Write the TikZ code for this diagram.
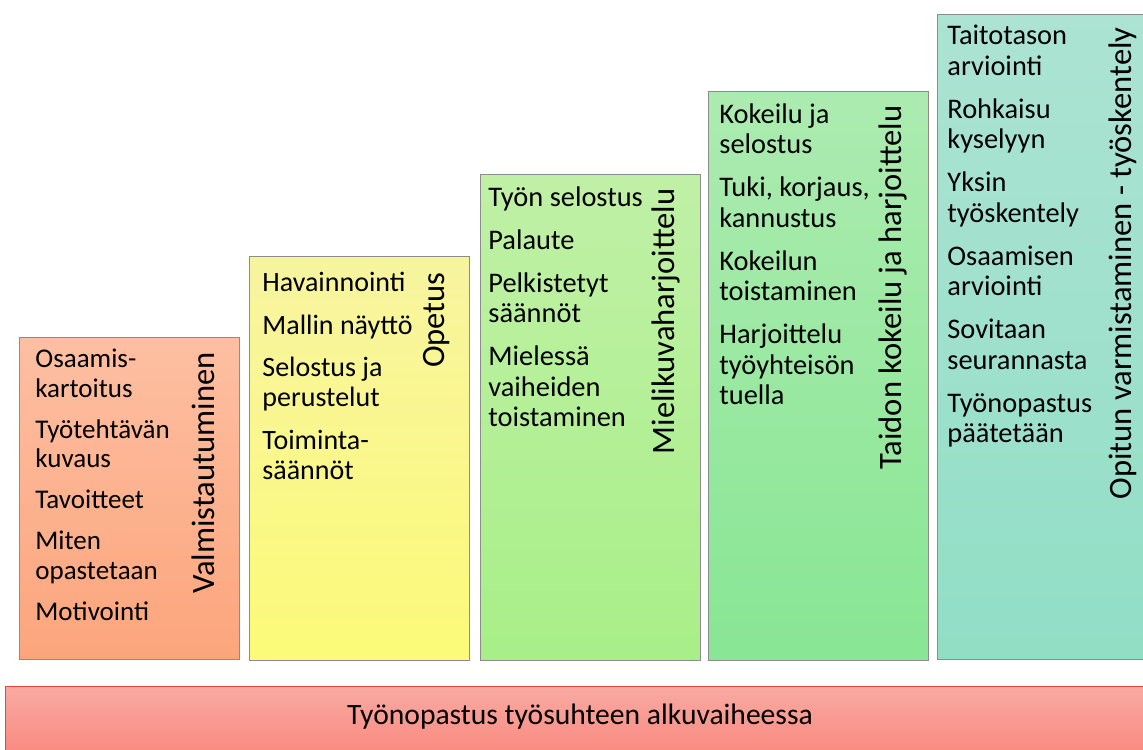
\documentclass[tikz,border=0pt]{standalone}
\usepackage{fontspec}
\setmainfont{Carlito}
\definecolor{valmtop}{HTML}{FDBFA2}
\definecolor{valmbot}{HTML}{FCA57C}
\definecolor{opettop}{HTML}{F7F4A0}
\definecolor{opetbot}{HTML}{FCFA78}
\definecolor{mieltop}{HTML}{C0F0A6}
\definecolor{mielbot}{HTML}{A8EF88}
\definecolor{taidtop}{HTML}{ACEBB0}
\definecolor{taidbot}{HTML}{88E694}
\definecolor{opittop}{HTML}{ACE3D3}
\definecolor{opitbot}{HTML}{91DEC5}
\definecolor{bartop}{HTML}{F9AAA2}
\definecolor{barbot}{HTML}{F98A80}
\definecolor{barline}{HTML}{E04A38}
\definecolor{boxline}{HTML}{8C8C8C}
\newlength{\itemgap}
\newcommand{\nextitem}{\\[\itemgap]}
\tikzset{
  stepbox/.style  = {shape=rectangle, draw=boxline, line width=0.7pt,
                     anchor=north west, inner sep=0pt,
                     minimum width=110pt},
  itemlist/.style = {align=left, inner sep=0pt, anchor=north west,
                     font=\fontsize{14.2pt}{15.25pt}\selectfont\setlength{\itemgap}{6.25pt}},
  smalllist/.style = {itemlist,
                     font=\fontsize{13.5pt}{14.75pt}\selectfont\setlength{\itemgap}{5.75pt}},
  phase/.style    = {rotate=90, inner sep=0pt, anchor=base east,
                     font=\fontsize{16.3pt}{18pt}\selectfont},
  basebar/.style  = {shape=rectangle, draw=barline, line width=0.7pt,
                     anchor=north west, inner sep=0pt,
                     top color=bartop, bottom color=barbot}
}
\begin{document}
\begin{tikzpicture}[x=0.5pt, y=-0.5pt]
  \useasboundingbox (0,0) rectangle (1143,749);
  \clip (0,0) rectangle (1143,749);

  % portaat
  \node [stepbox, minimum height=161pt, top color=valmtop, bottom color=valmbot]
    (valm) at (19,337) {};
  \node [stepbox, minimum height=202pt, top color=opettop, bottom color=opetbot]
    (opet) at (249,256) {};
  \node [stepbox, minimum height=243pt, top color=mieltop, bottom color=mielbot]
    (miel) at (480,174) {};
  \node [stepbox, minimum height=284.5pt, top color=taidtop, bottom color=taidbot]
    (taid) at (708,91) {};
  \node [stepbox, minimum height=322.5pt, top color=opittop, bottom color=opitbot]
    (opit) at (937,14) {};

  % sisallot
  \node [smalllist] (valmlist) at ([shift={(16,12)}]valm.north west)
    {Osaamis-\\kartoitus\nextitem Työtehtävän\\kuvaus\nextitem Tavoitteet\nextitem
     Miten\\opastetaan\nextitem Motivointi};
  \node [itemlist, font=\fontsize{14pt}{15pt}\selectfont\setlength{\itemgap}{6.25pt}]
    (opetlist) at ([shift={(13,16)}]opet.north west)
    {Havainnointi\nextitem Mallin näyttö\nextitem Selostus ja\\perustelut\nextitem
     Toiminta-\\säännöt};
  \node [itemlist] (miellist) at ([shift={(8,12)}]miel.north west)
    {Työn selostus\nextitem Palaute\nextitem Pelkistetyt\\säännöt\nextitem
     Mielessä\\vaiheiden\\toistaminen};
  \node [itemlist] (taidlist) at ([shift={(11,12)}]taid.north west)
    {Kokeilu ja\\selostus\nextitem Tuki, korjaus,\\kannustus\nextitem
     Kokeilun\\toistaminen\nextitem Harjoittelu\\työyhteisön\\tuella};
  \node [itemlist] (opitlist) at ([shift={(10,11)}]opit.north west)
    {Taitotason\\arviointi\nextitem Rohkaisu\\kyselyyn\nextitem Yksin\\työskentely\nextitem
     Osaamisen\\arviointi\nextitem Sovitaan\\seurannasta\nextitem Työnopastus\\päätetään};

  % vaiheet
  \node [phase] (valmname) at ([shift={(-26,15)}]valm.north east) {Valmistautuminen};
  \node [phase] (opetname) at ([shift={(-26,16)}]opet.north east) {Opetus};
  \node [phase] (mielname) at ([shift={(-27,14)}]miel.north east) {Mielikuvaharjoittelu};
  \node [phase] (taidname) at ([shift={(-28,14)}]taid.north east) {Taidon kokeilu ja harjoittelu};
  \node [phase] (opitname) at ([shift={(-27,13)}]opit.north east) {Opitun varmistaminen - työskentely};

  % pohja
  \node [basebar, minimum width=580pt, minimum height=33pt] (base) at (5,686) {};
  \node [font=\fontsize{14.8pt}{17pt}\selectfont] (basetext) at (580,717)
    {Työnopastus työsuhteen alkuvaiheessa};
\end{tikzpicture}
\end{document}
